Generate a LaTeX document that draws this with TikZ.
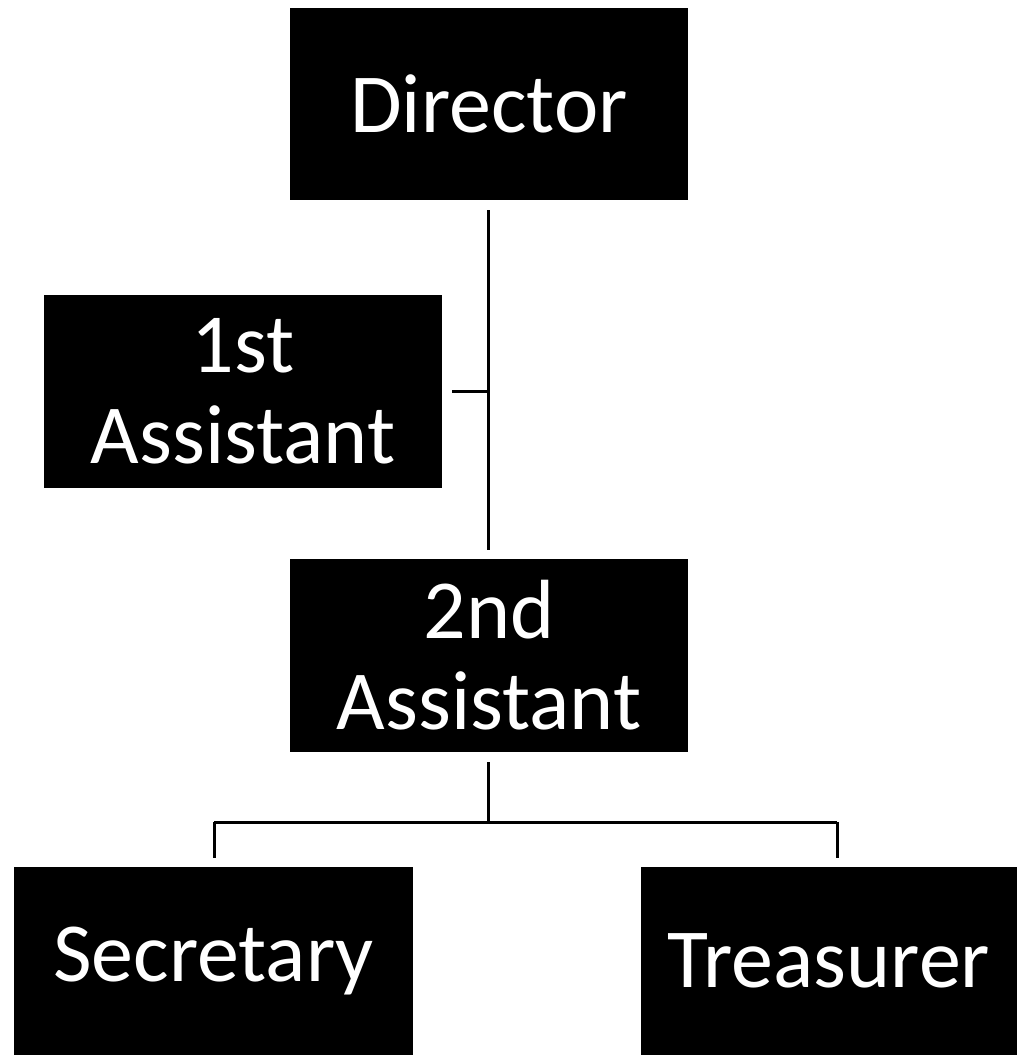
\documentclass[tikz,border=0pt]{standalone}
\usepackage{fontspec}
\setmainfont{Carlito}
\begin{document}
\begin{tikzpicture}[x=1pt,y=-1pt,
  box/.style={fill=black,text=white,inner sep=0pt,align=center,font=\fontsize{84}{91}\selectfont},
  conn/.style={line width=3pt}]
\useasboundingbox (0,0) rectangle (1017,1055);
\node[box,minimum width=398pt,minimum height=192pt] (dir) at (489,104) {Director};
\node[box,minimum width=398pt,minimum height=193pt] (a1) at (243,391.5) {1st\\Assistant};
\node[box,minimum width=398pt,minimum height=193pt] (a2) at (489,655.5) {2nd\\Assistant};
\node[box,minimum width=399pt,minimum height=188pt] (sec) at (213.5,961) {Secretary};
\node[box,minimum width=376pt,minimum height=188pt] (tre) at (829,961) {Treasurer};
\coordinate (bus) at (488,822);
\coordinate (bl) at (214,822);
\coordinate (br) at (837,822);
\draw[conn,shorten <=10pt,shorten >=9pt] (dir.south -| bus) -- (a2.north -| bus);
\draw[conn,shorten <=10pt] (a1.east) -- (a1.east -| bus);
\draw[conn,shorten <=10pt] (a2.south -| bus) -- (bus);
\draw[conn] (bl) -- (br);
\draw[conn,shorten >=9pt] (bl) -- (bl |- sec.north);
\draw[conn,shorten >=9pt] (br) -- (br |- tre.north);
\end{tikzpicture}
\end{document}
